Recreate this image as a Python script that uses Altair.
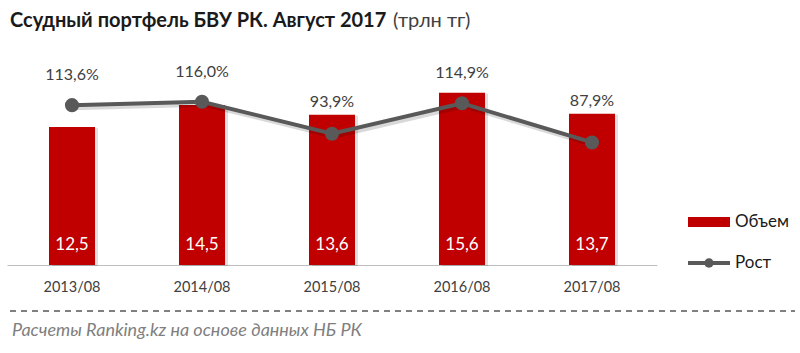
import altair as alt
import pandas as pd

categories = ["2013/08", "2014/08", "2015/08", "2016/08", "2017/08"]
volume = [12.5, 14.5, 13.6, 15.6, 13.7]
growth = [113.6, 116.0, 93.9, 114.9, 87.9]

title_main = "Ссудный портфель БВУ РК. Август 2017"
title_unit = "(трлн тг)"
source_note = "Расчеты Ranking.kz на основе данных НБ РК"
legend_bar = "Объем"
legend_line = "Рост"

FONT = "Lato"
RED = "#C00000"
GREY = "#595959"

H = 220
VOL_DOM = [0, 19.93]
GR_DOM = [3.4, 155.1]

df = pd.DataFrame({"cat": categories, "vol": volume, "gr": growth})

x_enc = alt.X(
    "cat:N",
    sort=categories,
    scale=alt.Scale(paddingInner=0.646, paddingOuter=0.323),
    axis=alt.Axis(
        title=None, labelAngle=0, ticks=False, grid=False,
        domainColor="#BFBFBF", domainWidth=1,
        labelFont=FONT, labelFontSize=14.5, labelColor="#404040",
        labelPadding=15,
    ),
)

y_bar = alt.Y("vol:Q", scale=alt.Scale(domain=VOL_DOM, nice=False, zero=True), axis=None)
y_line_scale = alt.Scale(domain=GR_DOM, nice=False, zero=False)
y_line = alt.Y("gr:Q", scale=y_line_scale, axis=None)

base = alt.Chart(df)

bar_shadow = base.mark_bar(color="#000000", opacity=0.12, xOffset=3, yOffset=1).encode(x=x_enc, y=y_bar)
bars = base.mark_bar(color=RED).encode(x=x_enc, y=y_bar)
bar_labels = base.transform_calculate(
    lab="replace(format(datum.vol, '.1f'), '.', ',')", zero="0"
).mark_text(color="white", font=FONT, fontSize=17, dy=-20).encode(
    x=x_enc, y=alt.Y("zero:Q", scale=alt.Scale(domain=VOL_DOM, nice=False), axis=None), text="lab:N"
)

bar_layer = alt.layer(bar_shadow, bars, bar_labels)

# label sits above the point, and also clear of the bar top (as Excel does)
px = H / (GR_DOM[1] - GR_DOM[0])
bar_top_expr = f"{GR_DOM[0]} + datum.vol * {(GR_DOM[1] - GR_DOM[0]) / (VOL_DOM[1] - VOL_DOM[0])}"
label_y_expr = f"max(datum.gr + {30 / px}, {bar_top_expr} + {13 / px})"

line_shadow = base.mark_line(color="#000000", opacity=0.15, strokeWidth=4, xOffset=2, yOffset=3).encode(x=x_enc, y=y_line)
line = base.mark_line(color=GREY, strokeWidth=4).encode(x=x_enc, y=y_line)
pts = base.mark_circle(color=GREY, opacity=1, size=200).encode(x=x_enc, y=y_line)
line_labels = base.transform_calculate(
    lab="replace(format(datum.gr, '.1f'), '.', ',') + '%'",
    ly=label_y_expr,
).mark_text(color="#404040", font=FONT, fontSize=16).encode(
    x=x_enc, y=alt.Y("ly:Q", scale=y_line_scale, axis=None), text="lab:N"
)

line_layer = alt.layer(line_shadow, line, pts, line_labels)

one = pd.DataFrame({"k": [0]})

t_main = alt.Chart(pd.DataFrame({"t": [title_main]})).mark_text(
    font=FONT, fontSize=20, fontWeight="bold", color="#1A1A1A", align="left", baseline="alphabetic"
).encode(x=alt.value(3), y=alt.value(-18), text="t:N")
t_unit = alt.Chart(pd.DataFrame({"t": [title_unit]})).mark_text(
    font=FONT, fontSize=20, color="#404040", align="left", baseline="alphabetic"
).encode(x=alt.value(386), y=alt.value(-18), text="t:N")

dash = alt.Chart(one).mark_rule(color="#808080", strokeWidth=2, strokeDash=[6, 5]).encode(
    x=alt.value(3), x2=alt.value(788), y=alt.value(266)
)
note = alt.Chart(pd.DataFrame({"t": [source_note]})).mark_text(
    font=FONT, fontSize=18, fontStyle="italic", color="#7F7F7F", align="left", baseline="alphabetic"
).encode(x=alt.value(5), y=alt.value(291), text="t:N")

leg_rect = alt.Chart(one).mark_rect(color=RED).encode(
    x=alt.value(681), x2=alt.value(723), y=alt.value(172), y2=alt.value(182)
)
leg_rect_txt = alt.Chart(pd.DataFrame({"t": [legend_bar]})).mark_text(
    font=FONT, fontSize=17, color="#1A1A1A", align="left", baseline="middle"
).encode(x=alt.value(728), y=alt.value(177), text="t:N")
leg_line = alt.Chart(one).mark_rule(color=GREY, strokeWidth=4).encode(
    x=alt.value(681), x2=alt.value(723), y=alt.value(218)
)
leg_pt = alt.Chart(one).mark_circle(color=GREY, opacity=1, size=90).encode(
    x=alt.value(702), y=alt.value(218)
)
leg_line_txt = alt.Chart(pd.DataFrame({"t": [legend_line]})).mark_text(
    font=FONT, fontSize=17, color="#1A1A1A", align="left", baseline="middle"
).encode(x=alt.value(728), y=alt.value(218), text="t:N")

chart = alt.layer(
    bar_layer, line_layer,
    t_main, t_unit, dash, note, leg_rect, leg_rect_txt, leg_line, leg_pt, leg_line_txt,
).resolve_scale(y="independent").properties(
    width=650, height=H,
    background="white",
    autosize=alt.AutoSizeParams(type="none"),
    padding={"left": 7, "top": 45, "right": 143, "bottom": 88},
).configure_view(stroke=None, strokeWidth=0)

chart.save("out.html", embed_options={"renderer": "svg", "actions": False})
